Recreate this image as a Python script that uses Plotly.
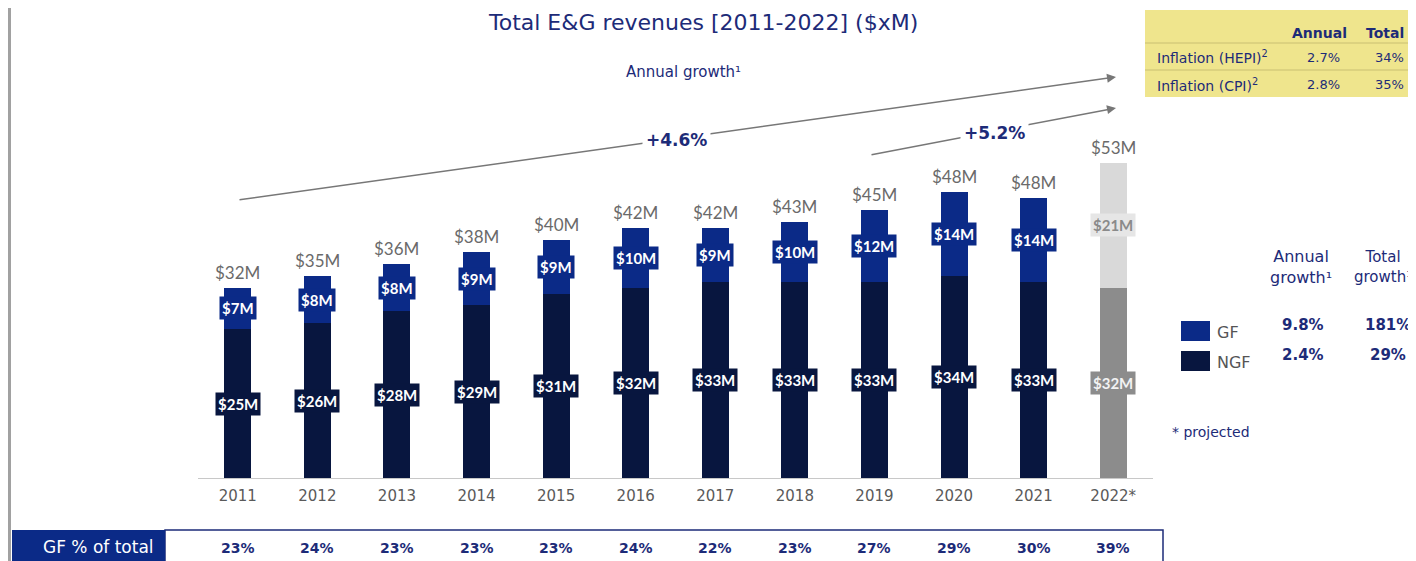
import plotly.graph_objects as go

# ---------------- data ----------------
years = ["2011", "2012", "2013", "2014", "2015", "2016", "2017", "2018", "2019", "2020", "2021", "2022*"]
gf = [7, 8, 8, 9, 9, 10, 9, 10, 12, 14, 14, 21]
ngf = [25, 26, 28, 29, 31, 32, 33, 33, 33, 34, 33, 32]
totals = [32, 35, 36, 38, 40, 42, 42, 43, 45, 48, 48, 53]
gf_pct = ["23%", "24%", "23%", "23%", "23%", "24%", "22%", "23%", "27%", "29%", "30%", "39%"]

growth_all = "+4.6%"
growth_recent = "+5.2%"

infl_rows = ["Inflation (HEPI)<sup>2</sup>", "Inflation (CPI)<sup>2</sup>"]
infl_annual = ["2.7%", "2.8%"]
infl_total = ["34%", "35%"]

leg_names = ["GF", "NGF"]
leg_annual = ["9.8%", "2.4%"]
leg_total = ["181%", "29%"]

# ---------------- styles ----------------
OFF = 8                      # page body margin
W, H = 1416 - OFF, 561 - OFF
ML, MR, MT, MB = 190, 263, 92, 83
PW, PH = W - ML - MR, H - MT - MB

C_GF = "#0b2a87"
C_NGF = "#08163f"
C_GF_P = "#d9d9d9"
C_NGF_P = "#8c8c8c"
NAVY = "#1d2b78"
FONT = "DejaVu Sans"
LFONT = "Lato"

n = len(years)
xs = list(range(n))
gf_colors = [C_GF] * (n - 1) + [C_GF_P]
ngf_colors = [C_NGF] * (n - 1) + [C_NGF_P]


def px(x):
    return (x - OFF - ML) / PW


def py(y):
    return (H - MB - (y - OFF)) / PH


def txt(x, y, text, size, color, xa="center", ya="middle", family=FONT, **kw):
    return dict(x=px(x), y=py(y), xref="paper", yref="paper", text=text, showarrow=False,
                xanchor=xa, yanchor=ya, font=dict(family=family, size=size, color=color), **kw)


fig = go.Figure()
fig.add_trace(go.Bar(x=xs, y=ngf, marker=dict(color=ngf_colors, line=dict(width=0)),
                     width=0.34, name="NGF", showlegend=False, hoverinfo="skip"))
fig.add_trace(go.Bar(x=xs, y=gf, marker=dict(color=gf_colors, line=dict(width=0)),
                     width=0.34, name="GF", showlegend=False, hoverinfo="skip"))

ann = []
shapes = []

# segment labels and totals
for i in range(n):
    proj = i == n - 1
    ann.append(dict(x=xs[i], y=ngf[i] / 2, xref="x", yref="y", text=f"<b>${ngf[i]}M</b>",
                    showarrow=False, xanchor="center", yanchor="middle",
                    font=dict(family=LFONT, size=15, color="#f2f2f2" if proj else "white"),
                    bgcolor=ngf_colors[i], borderpad=2))
    ann.append(dict(x=xs[i], y=ngf[i] + gf[i] / 2, xref="x", yref="y", text=f"<b>${gf[i]}M</b>",
                    showarrow=False, xanchor="center", yanchor="middle",
                    font=dict(family=LFONT, size=15, color="#8a8a8a" if proj else "white"),
                    bgcolor="#e6e6e6" if proj else gf_colors[i], borderpad=2))
    ann.append(dict(x=xs[i], y=ngf[i] + gf[i], xref="x", yref="y", text=f"${totals[i]}M",
                    showarrow=False, xanchor="center", yanchor="bottom", yshift=3,
                    font=dict(family=LFONT, size=17, color="#6a6a6a")))
    ann.append(dict(x=xs[i], y=py(548), xref="x", yref="paper", text=f"<b>{gf_pct[i]}</b>",
                    showarrow=False, xanchor="center", yanchor="middle",
                    font=dict(family=FONT, size=14, color=NAVY)))

# title and growth arrows
ann.append(txt(703, 22, "Total E&G revenues [2011-2022] ($xM)", 22, NAVY))
ann.append(txt(683, 72, "Annual growth¹", 15, NAVY))
ann.append(dict(x=px(1116), y=py(77), xref="paper", yref="paper", text="", showarrow=True,
                ax=238 - 1116, ay=200 - 77, arrowhead=2, arrowsize=1.2, arrowwidth=1.5, arrowcolor="#777777"))
ann.append(dict(x=px(1116), y=py(108), xref="paper", yref="paper", text="", showarrow=True,
                ax=870 - 1116, ay=155 - 108, arrowhead=2, arrowsize=1.2, arrowwidth=1.5, arrowcolor="#777777"))
ann.append(txt(676, 140, f"<b>{growth_all}</b>", 17, NAVY, bgcolor="white", borderpad=3))
ann.append(txt(994, 133, f"<b>{growth_recent}</b>", 17, NAVY, bgcolor="white", borderpad=3))

# inflation table
shapes.append(dict(type="rect", xref="paper", yref="paper", x0=px(1145), x1=px(1420), y0=py(97), y1=py(10),
                   fillcolor="#efe58d", line=dict(width=0), layer="below"))
for yy in (43, 70):
    shapes.append(dict(type="line", xref="paper", yref="paper", x0=px(1145), x1=px(1420), y0=py(yy), y1=py(yy),
                       line=dict(color="#c9bf72", width=1)))
ann.append(txt(1349, 33, "<b>Annual</b>", 14, NAVY, xa="right"))
ann.append(txt(1406, 33, "<b>Total</b>", 14, NAVY, xa="right"))
for k, yy in enumerate((57, 85)):
    ann.append(txt(1155, yy, infl_rows[k], 14, NAVY, xa="left"))
    ann.append(txt(1342, yy, infl_annual[k], 13, NAVY, xa="right"))
    ann.append(txt(1406, yy, infl_total[k], 13, NAVY, xa="right"))

# right legend panel
ann.append(txt(1301, 267, "Annual<br>growth¹", 16, NAVY))
ann.append(txt(1383, 267, "Total<br>growth¹", 15, NAVY))
for k, (yy, col) in enumerate(((331, C_GF), (361, C_NGF))):
    shapes.append(dict(type="rect", xref="paper", yref="paper", x0=px(1181), x1=px(1210),
                       y0=py(yy + 10), y1=py(yy - 10), fillcolor=col, line=dict(width=0)))
    ann.append(txt(1215, yy + 1, leg_names[k], 16, "#555555", xa="left"))
    ann.append(txt(1303, yy - 6, f"<b>{leg_annual[k]}</b>", 15, NAVY))
    ann.append(txt(1388, yy - 6, f"<b>{leg_total[k]}</b>", 15, NAVY))
ann.append(txt(1170, 432, "* projected", 14, NAVY, xa="left"))

# bottom row
shapes.append(dict(type="rect", xref="paper", yref="paper", x0=px(165), x1=px(1163), y0=py(575), y1=py(530),
                   fillcolor="white", line=dict(color="#1d2b78", width=1.5)))
shapes.append(dict(type="rect", xref="paper", yref="paper", x0=px(12), x1=px(165), y0=py(575), y1=py(530),
                   fillcolor="#0b2a87", line=dict(width=0)))
ann.append(txt(98, 547, "GF % of total", 17, "white"))

# left border
for xx in (8, 10):
    shapes.append(dict(type="line", xref="paper", yref="paper", x0=px(xx), x1=px(xx), y0=py(OFF), y1=py(H + OFF),
                       line=dict(color="#444444", width=1)))

fig.update_layout(
    width=W, height=H, barmode="stack",
    margin=dict(l=ML, r=MR, t=MT, b=MB),
    paper_bgcolor="white", plot_bgcolor="white",
    annotations=ann, shapes=shapes,
    xaxis=dict(range=[-0.5, 11.5], tickvals=xs, ticktext=years, showgrid=False, zeroline=False,
               showline=True, linecolor="#c8c8c8", linewidth=1, ticks="outside", ticklen=4,
               tickcolor="rgba(0,0,0,0)",
               tickfont=dict(family=FONT, size=15, color="#5a5a5a")),
    yaxis=dict(range=[0, PH / 5.95], visible=False, showgrid=False),
    showlegend=False,
)

fig.write_html("out.html")
